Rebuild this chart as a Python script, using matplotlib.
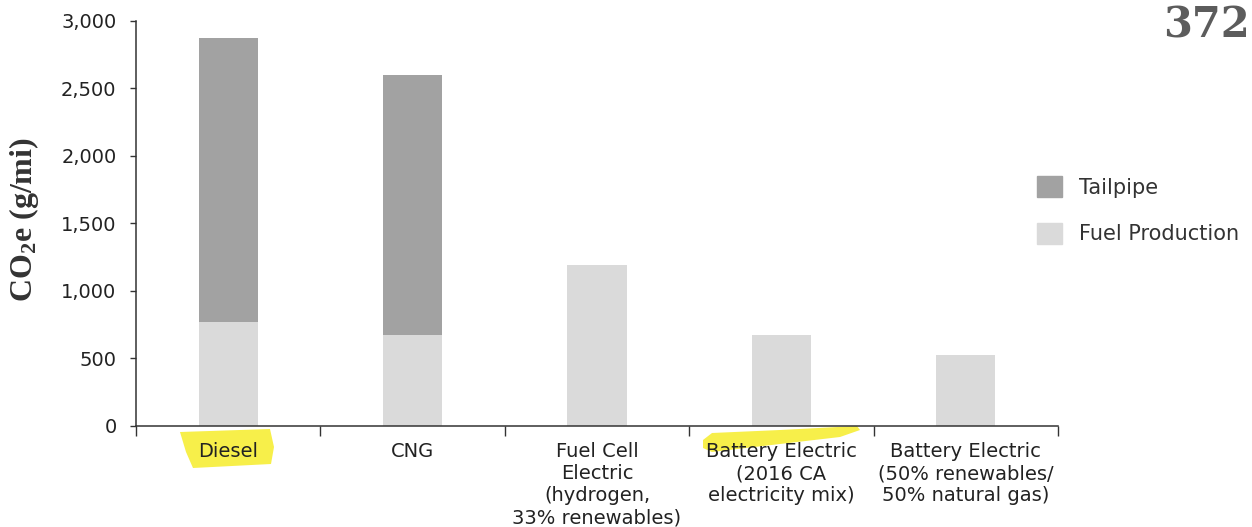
import matplotlib
matplotlib.use("Agg")
import matplotlib.pyplot as plt
from matplotlib.patches import Polygon, Patch
import numpy as np

categories = ["Diesel", "CNG", "Fuel Cell\nElectric\n(hydrogen,\n33% renewables)",
              "Battery Electric\n(2016 CA\nelectricity mix)",
              "Battery Electric\n(50% renewables/\n50% natural gas)"]
fuel_production = [770, 670, 1190, 670, 525]
tailpipe = [2105, 1930, 0, 0, 0]
yticks = [0, 500, 1000, 1500, 2000, 2500, 3000]
ytick_labels = ["0", "500", "1,000", "1,500", "2,000", "2,500", "3,000"]

plt.rcParams["mathtext.fontset"] = "custom"
plt.rcParams["mathtext.rm"] = "Liberation Serif:bold"
plt.rcParams["mathtext.it"] = "Liberation Serif:bold"
plt.rcParams["mathtext.bf"] = "Liberation Serif:bold"

W, H = 1252, 527
fig = plt.figure(figsize=(W / 100, H / 100), dpi=100)
ax = fig.add_axes([136 / W, 1 - 425.5 / H, (1058 - 136) / W, (425.5 - 21) / H])

FP_COLOR = "#dadada"
TP_COLOR = "#a2a2a2"
x = np.arange(len(categories))
ax.bar(x, fuel_production, width=0.32, color=FP_COLOR, label="Fuel Production", zorder=2)
ax.bar(x, tailpipe, width=0.32, bottom=fuel_production, color=TP_COLOR, label="Tailpipe", zorder=2)

ax.set_xlim(-0.5, len(categories) - 0.5)
ax.set_ylim(0, 3000)

font = "DejaVu Sans"
FS = 14
ax.set_yticks(yticks)
ax.set_yticklabels(ytick_labels, fontsize=FS, family=font, color="#222222")
ax.tick_params(axis="y", length=4, width=1, pad=10, color="#333333")

ax.set_xticks(np.arange(len(categories) + 1) - 0.5)
ax.set_xticklabels([])
ax.tick_params(axis="x", which="major", length=7, width=1, color="#333333")
ax.set_xticks(x, minor=True)
ax.set_xticklabels(categories, minor=True, fontsize=FS, family=font, color="#222222",
                   linespacing=1.2)
ax.tick_params(axis="x", which="minor", length=0, pad=12)

for s in ["top", "right"]:
    ax.spines[s].set_visible(False)
for s in ["left", "bottom"]:
    ax.spines[s].set_color("#333333")
    ax.spines[s].set_linewidth(1.1)

fig.text(24 / W, 1 - 220 / H, r"CO$_{\mathrm{2}}$e (g/mi)", rotation=90, ha="center", va="center",
         fontsize=23, family="Liberation Serif", fontweight="bold", color="#333333")

handles = [Patch(color=TP_COLOR), Patch(color=FP_COLOR)]
fig.legend(handles, ["Tailpipe", "Fuel Production"], loc="upper left",
           bbox_to_anchor=(1037 / W, 1 - 176 / H), frameon=False,
           prop={"family": font, "size": 15}, handlelength=1.2, handleheight=1.2,
           handletextpad=0.8, labelspacing=1.2, borderpad=0, borderaxespad=0,
           labelcolor="#333333")

fig.text(1250 / W, 1 - 4 / H, "372", ha="right", va="top", fontsize=30,
         family="DejaVu Serif", fontweight="bold", color="#5c5c5c")

def px(points):
    return [(a / W, 1 - b / H) for a, b in points]

hl = "#f7ef4a"
fig.add_artist(Polygon(px([(180, 432), (270, 429), (274, 447), (271, 464), (193, 468), (186, 452)]),
                       closed=True, facecolor=hl, edgecolor="none", zorder=-1,
                       transform=fig.transFigure))
fig.add_artist(Polygon(px([(703, 440), (712, 433), (780, 430), (857, 426), (860, 430), (840, 437),
                           (780, 444), (712, 452), (703, 448)]),
                       closed=True, facecolor=hl, edgecolor="none", zorder=-1,
                       transform=fig.transFigure))

fig.savefig("out.png", dpi=100)
